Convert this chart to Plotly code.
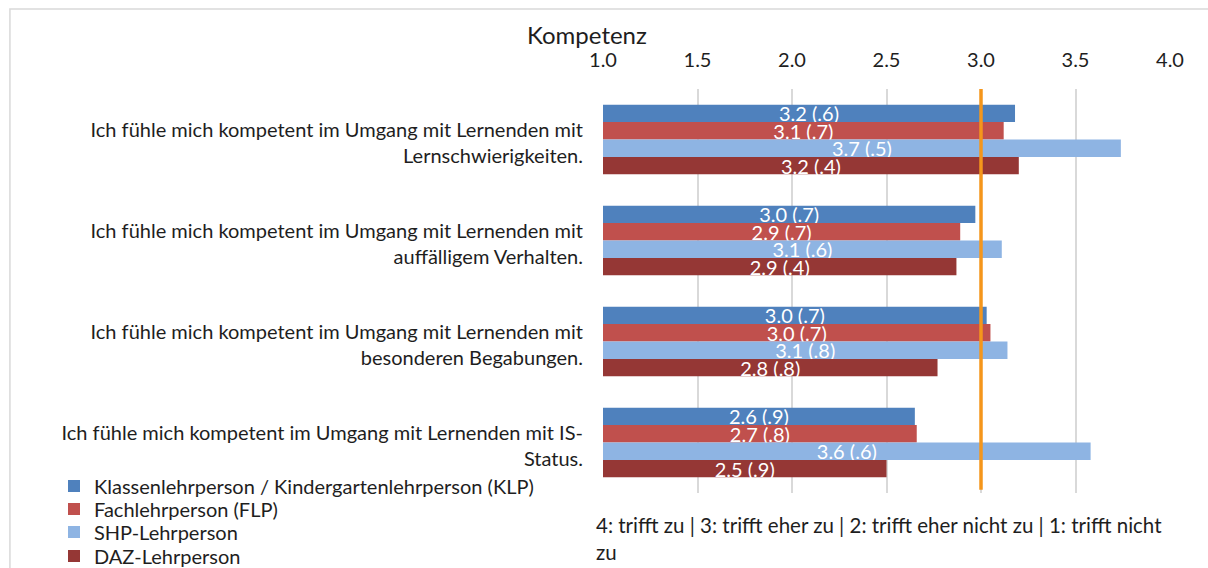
import plotly.graph_objects as go

categories = [
    "Ich fühle mich kompetent im Umgang mit Lernenden mit<br>Lernschwierigkeiten.",
    "Ich fühle mich kompetent im Umgang mit Lernenden mit<br>auffälligem Verhalten.",
    "Ich fühle mich kompetent im Umgang mit Lernenden mit<br>besonderen Begabungen.",
    "Ich fühle mich kompetent im Umgang mit Lernenden mit IS-<br>Status.",
]

series_names = [
    "Klassenlehrperson / Kindergartenlehrperson (KLP)",
    "Fachlehrperson (FLP)",
    "SHP-Lehrperson",
    "DAZ-Lehrperson",
]
series_colors = ["#4F81BD", "#C0504D", "#8EB4E3", "#953735"]

klp_values = [3.18, 2.97, 3.03, 2.65]
flp_values = [3.12, 2.89, 3.05, 2.66]
shp_values = [3.74, 3.11, 3.14, 3.58]
daz_values = [3.20, 2.87, 2.77, 2.50]

klp_labels = ["3.2 (.6)", "3.0 (.7)", "3.0 (.7)", "2.6 (.9)"]
flp_labels = ["3.1 (.7)", "2.9 (.7)", "3.0 (.7)", "2.7 (.8)"]
shp_labels = ["3.7 (.5)", "3.1 (.6)", "3.1 (.8)", "3.6 (.6)"]
daz_labels = ["3.2 (.4)", "2.9 (.4)", "2.8 (.8)", "2.5 (.9)"]

tick_vals = [1.0, 1.5, 2.0, 2.5, 3.0, 3.5, 4.0]
tick_text = ["1.0", "1.5", "2.0", "2.5", "3.0", "3.5", "4.0"]
axis_min = 1.0
reference_value = 3.0

FONT = "Lato"
TEXT_COLOR = "#1e1e1e"

# plot area in pixels: x 603..1170, y 89..493
legend_ids = ["legend", "legend2", "legend3", "legend4"]
legend_centers_px = [486, 509, 532, 556]

fig = go.Figure()
for name, color, vals, labels, lid in zip(
    series_names,
    series_colors,
    [klp_values, flp_values, shp_values, daz_values],
    [klp_labels, flp_labels, shp_labels, daz_labels],
    legend_ids,
):
    fig.add_trace(go.Bar(
        name=name,
        y=categories,
        x=[v - axis_min for v in vals],
        base=axis_min,
        orientation="h",
        marker=dict(color=color, line=dict(width=0)),
        text=labels,
        textposition="inside",
        insidetextanchor="middle",
        constraintext="none",
        textfont=dict(color="white", size=20, family=FONT),
        hovertemplate="%{y}: %{text}<extra>" + name + "</extra>",
        legend=lid,
    ))

legend_layout = {}
for lid, yc in zip(legend_ids, legend_centers_px):
    legend_layout[lid] = dict(
        x=(54 - 603) / 567,
        y=(493 - yc) / 404,
        xanchor="left",
        yanchor="middle",
        font=dict(size=20, family=FONT, color=TEXT_COLOR),
        bgcolor="rgba(0,0,0,0)",
        borderwidth=0,
    )

fig.update_layout(
    width=1208,
    height=568,
    barmode="group",
    bargap=0.31,
    bargroupgap=0,
    plot_bgcolor="white",
    paper_bgcolor="white",
    margin=dict(l=603, r=38, t=89, b=75, autoexpand=False),
    font=dict(family=FONT, color=TEXT_COLOR, size=20),
    xaxis=dict(
        side="top",
        range=[1.0, 4.0],
        tickvals=tick_vals,
        ticktext=tick_text,
        showgrid=True,
        gridcolor="#d9d9d9",
        gridwidth=1.5,
        zeroline=False,
        showline=False,
        ticks="",
        ticklabelstandoff=17,
        tickfont=dict(size=20, family=FONT, color=TEXT_COLOR),
    ),
    yaxis=dict(
        autorange="reversed",
        showgrid=False,
        zeroline=False,
        showline=False,
        ticks="",
        ticklabelstandoff=19,
        ticklabelshift=-3,
        tickfont=dict(size=20, family=FONT, color=TEXT_COLOR),
    ),
    showlegend=True,
    **legend_layout,
)

fig.add_shape(
    type="line", xref="x", yref="paper",
    x0=reference_value, x1=reference_value, y0=0.008, y1=1,
    line=dict(color="#F5961B", width=3.5), layer="above",
)

fig.add_shape(
    type="rect", xref="paper", yref="paper",
    x0=-1.046, x1=1.2, y0=-0.3, y1=1.198,
    line=dict(color="#d9d9d9", width=1.5), layer="below",
)

fig.add_annotation(
    text="Kompetenz", xref="paper", yref="paper",
    x=-0.138, y=1.134, xanchor="left", yanchor="middle",
    showarrow=False, font=dict(size=24, family=FONT, color=TEXT_COLOR),
)

fig.add_annotation(
    text="4: trifft zu | 3: trifft eher zu | 2: trifft eher nicht zu | 1: trifft nicht<br>zu",
    xref="paper", yref="paper",
    x=-0.015, y=-0.045, xanchor="left", yanchor="top", align="left",
    showarrow=False, font=dict(size=20.5, family=FONT, color=TEXT_COLOR),
)

fig.write_html(
    "out.html",
    config={"displayModeBar": False},
    post_script="document.body.style.margin='0';document.body.style.overflow='hidden';",
)
